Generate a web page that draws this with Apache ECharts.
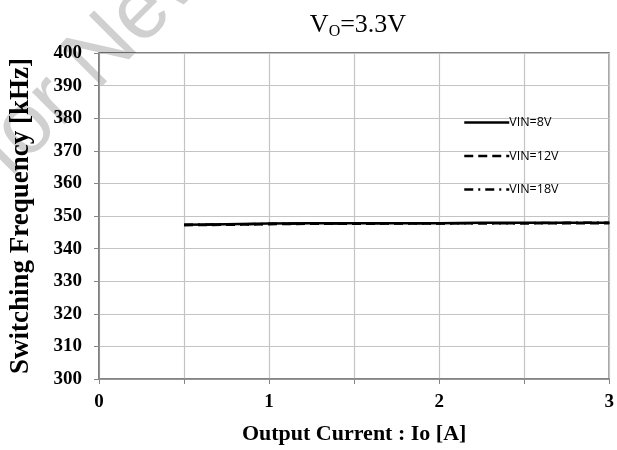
<!DOCTYPE html>
<html>
<head>
<meta charset="utf-8">
<script src="https://cdn.jsdelivr.net/npm/echarts@6/dist/echarts.min.js"></script>
<style>html,body{margin:0;padding:0;background:#fff}#c{width:617px;height:450px}</style>
</head>
<body>
<div id="c"></div>
<script>
const currents = [0.5, 0.75, 1, 1.25, 1.5, 1.75, 2, 2.25, 2.5, 2.75, 3];
const vin8 = [347.3, 347.5, 347.7, 347.8, 347.8, 347.8, 347.8, 347.9, 347.9, 347.9, 347.9];
const vin12 = [347.2, 347.3, 347.5, 347.6, 347.6, 347.7, 347.7, 347.8, 347.8, 347.8, 347.8];
const vin18 = [347.3, 347.4, 347.6, 347.7, 347.7, 347.8, 347.8, 347.8, 347.8, 347.9, 347.9];
const seriesNames = ['VIN=8V', 'VIN=12V', 'VIN=18V'];
const xTickLabels = ['0', '1', '2', '3'];

const pair = (ys) => currents.map((x, i) => [x, ys[i]]);
const serif = '"Liberation Serif", "Times New Roman", serif';
const chart = echarts.init(document.getElementById('c'));
chart.setOption({
  animation: false,
  backgroundColor: '#fff',
  title: {
    text: '{v|V}{s|O}{v|=3.3V}',
    left: 353, top: 6, textAlign: 'center',
    textStyle: {
      fontWeight: 'normal',
      rich: {
        v: { fontFamily: serif, fontSize: 26, fontWeight: 'normal', color: '#000' },
        s: { fontFamily: serif, fontSize: 16, fontWeight: 'normal', color: '#000', verticalAlign: 'bottom', padding: [13, 0, 0, 0] }
      }
    }
  },
  graphic: [{
    type: 'text', z: -10, silent: true,
    x: -38, y: 132,
    rotation: Math.PI / 4,
    style: { text: 'for New', fontSize: 86, fontFamily: '"Liberation Sans", Arial, sans-serif', fill: '#d0d0d0' }
  }],
  legend: {
    orient: 'vertical', left: 458, top: 111, itemWidth: 45, itemHeight: 12, itemGap: 20.5,
    itemStyle: { opacity: 0 },
    lineStyle: { width: 2.5 },
    textStyle: { fontFamily: '"Open Sans", Carlito, Calibri, sans-serif', fontSize: 12.5, color: '#000', padding: [0, 0, 0, -5] },
    data: seriesNames
  },
  grid: { left: 99, right: 6, top: 53, bottom: 68, show: true, borderColor: '#000', borderWidth: 1.2 },
  xAxis: {
    type: 'value', min: 0, max: 3, interval: 0.5,
    name: 'Output Current : Io [A]', nameLocation: 'middle', nameGap: 44,
    nameTextStyle: { fontFamily: serif, fontWeight: 'bold', fontSize: 22, color: '#000' },
    axisLine: { lineStyle: { color: '#868686', width: 1.5 } },
    axisTick: { show: true, length: 5, lineStyle: { color: '#868686' } },
    axisLabel: {
      margin: 14, fontFamily: serif, fontWeight: 'bold', fontSize: 19, color: '#000',
      formatter: (v) => (Number.isInteger(v) ? xTickLabels[v] : '')
    },
    splitLine: { lineStyle: { color: '#c4c4c4', width: 1.2 } }
  },
  yAxis: {
    type: 'value', min: 300, max: 400, interval: 10,
    name: 'Switching Frequency [kHz]', nameLocation: 'middle', nameGap: 64,
    nameTextStyle: { fontFamily: serif, fontWeight: 'bold', fontSize: 27, color: '#000' },
    axisLine: { show: true, lineStyle: { color: '#868686', width: 1.5 } },
    axisTick: { show: true, length: 5, lineStyle: { color: '#868686' } },
    axisLabel: { margin: 17, fontFamily: serif, fontWeight: 'bold', fontSize: 19, color: '#000' },
    splitLine: { lineStyle: { color: '#c4c4c4', width: 1.2 } }
  },
  series: [
    { name: seriesNames[0], type: 'line', data: pair(vin8), showSymbol: false, symbol: 'none',
      lineStyle: { color: '#000', width: 2.5, type: 'solid' }, itemStyle: { color: '#000' } },
    { name: seriesNames[1], type: 'line', data: pair(vin12), showSymbol: false, symbol: 'none',
      lineStyle: { color: '#000', width: 2.5, type: [9, 5] }, itemStyle: { color: '#000' } },
    { name: seriesNames[2], type: 'line', data: pair(vin18), showSymbol: false, symbol: 'none',
      lineStyle: { color: '#000', width: 2.5, type: [9, 5, 2, 5] }, itemStyle: { color: '#000' } }
  ]
});
</script>
</body>
</html>
